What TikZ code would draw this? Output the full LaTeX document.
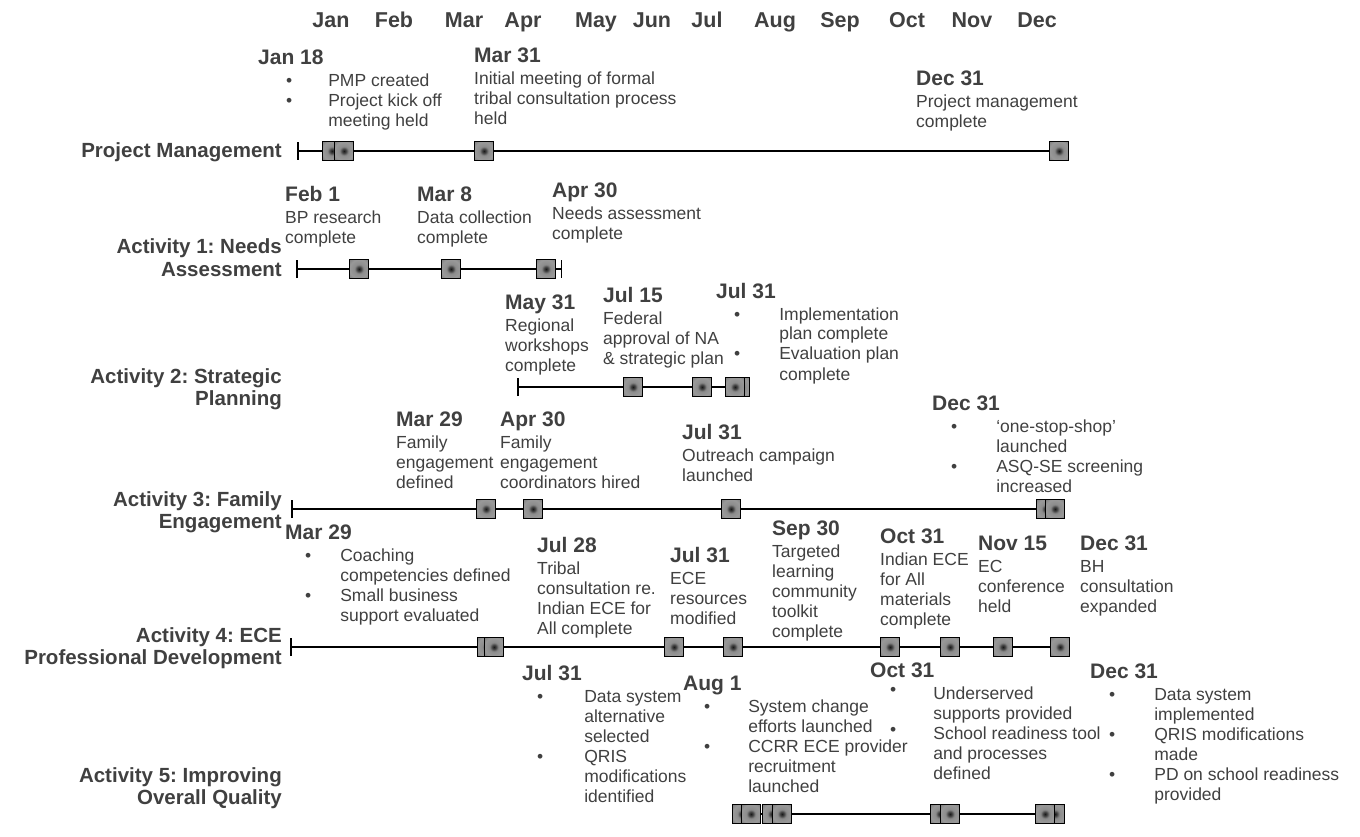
\documentclass[tikz,border=0pt]{standalone}
\usepackage{fontspec}
\setmainfont{Liberation Sans}
\usetikzlibrary{arrows.meta, backgrounds}
\frenchspacing

% milestone square: dark dot, light ring, darker rim
\pgfdeclareradialshading{msshade}{\pgfpoint{0bp}{0bp}}{%
  color(0bp)=(black!90); color(5bp)=(black!75); color(12bp)=(black!45);
  color(25bp)=(black!40); color(40bp)=(black!55); color(50bp)=(black!62)}

\newcommand{\txtfont}{\fontsize{17.5}{20}\selectfont}
\newcommand{\datefont}{\fontsize{21}{24}\selectfont\bfseries}
\newcommand{\lblfont}{\fontsize{20.5}{22.5}\selectfont\bfseries}
\newcommand{\monfont}{\fontsize{21.5}{24}\selectfont\bfseries}
% date + plain lines
\newcommand{\ev}[2]{\begin{tabular}[t]{@{}l@{}}{\datefont #1}\\[2pt] #2\end{tabular}}
% date + bulleted lines (bullet indent, gap)
\newcommand{\evb}[4]{\begin{tabular}[t]{@{\hspace{#1pt}}l@{\hspace{#2pt}}l@{}}%
  \multicolumn{2}{@{}l@{}}{\datefont #3}\\[2pt] #4\end{tabular}}
\newcommand{\two}[2]{\begin{tabular}[t]{@{}r@{}}#1\\ #2\end{tabular}}
\newcommand{\hib}{\raisebox{4pt}{\textbullet}}

\begin{document}
\begin{tikzpicture}[x=1pt, y=-1pt]
    \tikzset{
      ms/.style={draw=black, line width=1.2pt, shading=msshade,
                 minimum size=19pt, inner sep=0pt, shape=rectangle},
      txt/.style={font=\txtfont, text=black!75, inner sep=0pt, anchor=base west},
      lbl/.style={font=\lblfont, text=black!75, inner sep=0pt, anchor=base east},
      mon/.style={font=\monfont, text=black!75, inner sep=0pt, anchor=base},
      tl/.style={draw=black, line width=1.5pt},
      tk/.style={arrows={Bar[width=18pt]-}},
      tkk/.style={arrows={Bar[width=18pt]-Bar[width=18pt]}}
    }
    \useasboundingbox (0,0) rectangle (1360,837);

    % months
    \foreach \m/\x in {Jan/331, Feb/394, Mar/464, Apr/523, May/596, Jun/652,
                       Jul/707, Aug/775, Sep/840, Oct/907, Nov/972, Dec/1037}
        \node[mon] (m-\m) at (\x,28) {\m};

    % row labels
    \node[lbl] (pm-l) at (282,158) {Project Management};
    \node[lbl] (na-l) at (282,254) {\two{Activity 1: Needs}{Assessment}};
    \node[lbl] (sp-l) at (282,383) {\two{Activity 2: Strategic}{Planning}};
    \node[lbl] (fe-l) at (282,506) {\two{Activity 3: Family}{Engagement}};
    \node[lbl] (pd-l) at (282,642) {\two{Activity 4: ECE}{Professional Development}};
    \node[lbl] (oq-l) at (282,782) {\two{Activity 5: Improving}{Overall Quality}};

    % project management
    \coordinate (pm0) at (297,151);
    \foreach \i/\x in {1/332, 2/344, 3/484, 4/1059} \node[ms] (pm\i) at (\x,151) {};
    \node[txt] (pm-t1) at (258,65) {\evb{28}{36}{Jan 18}{\textbullet & PMP created\\
        \textbullet & Project kick off\\ & meeting held}};
    \node[txt] (pm-t2) at (474,63) {\ev{Mar 31}{Initial meeting of formal\\
        tribal consultation process\\ held}};
    \node[txt] (pm-t3) at (916,86) {\ev{Dec 31}{Project management\\ complete}};

    % needs assessment
    \coordinate (na0) at (296,269);
    \coordinate (na4) at (562,269);
    \foreach \i/\x in {1/359, 2/451, 3/546} \node[ms] (na\i) at (\x,269) {};
    \node[txt] (na-t1) at (285,202) {\ev{Feb 1}{BP research\\ complete}};
    \node[txt] (na-t2) at (417,202) {\ev{Mar 8}{Data collection\\ complete}};
    \node[txt] (na-t3) at (552,198) {\ev{Apr 30}{Needs assessment\\ complete}};

    % strategic planning
    \coordinate (sp0) at (517,387);
    \foreach \i/\x in {1/633, 2/702, 4/740, 3/735} \node[ms] (sp\i) at (\x,387) {};
    \node[txt] (sp-t1) at (505,309) {\ev{May 31}{Regional\\ workshops\\ complete}};
    \node[txt] (sp-t2) at (603,302) {\ev{Jul 15}{Federal\\ approval of NA\\ \& strategic plan}};
    \node[txt] (sp-t3) at (716,298) {\evb{18}{39}{Jul 31}{\textbullet & Implementation\\
        & plan complete\\ \textbullet & Evaluation plan\\ & complete}};

    % family engagement
    \coordinate (fe0) at (291,509);
    \foreach \i/\x in {1/486, 2/533, 3/731, 4/1046, 5/1055} \node[ms] (fe\i) at (\x,509) {};
    \node[txt] (fe-t1) at (396,426) {\ev{Mar 29}{Family\\ engagement\\ defined}};
    \node[txt] (fe-t2) at (500,426) {\ev{Apr 30}{Family\\ engagement\\ coordinators hired}};
    \node[txt] (fe-t3) at (682,439) {\ev{Jul 31}{Outreach campaign\\ launched}};
    \node[txt] (fe-t4) at (932,410) {\evb{19}{39}{Dec 31}{\textbullet & ‘one-stop-shop’\\
        & launched\\ \textbullet & ASQ-SE screening\\ & increased}};

    % ECE professional development
    \coordinate (pd0) at (290,647);
    \foreach \i/\x in {1/487, 2/494, 3/674, 4/733, 5/890, 6/950, 7/1003, 8/1060}
        \node[ms] (pd\i) at (\x,647) {};
    \node[txt] (pd-t1) at (285,539) {\evb{20}{29}{Mar 29}{\textbullet & Coaching\\
        & competencies defined\\ \textbullet & Small business\\ & support evaluated}};
    \node[txt] (pd-t2) at (537,552) {\ev{Jul 28}{Tribal\\ consultation re.\\
        Indian ECE for\\ All complete}};
    \node[txt] (pd-t3) at (670,562) {\ev{Jul 31}{ECE\\ resources\\ modified}};
    \node[txt] (pd-t4) at (772,535) {\ev{Sep 30}{Targeted\\ learning\\ community\\
        toolkit\\ complete}};
    \node[txt] (pd-t5) at (880,543) {\ev{Oct 31}{Indian ECE\\ for All\\ materials\\ complete}};
    \node[txt] (pd-t6) at (978,550) {\ev{Nov 15}{EC\\ conference\\ held}};
    \node[txt] (pd-t7) at (1080,550) {\ev{Dec 31}{BH\\ consultation\\ expanded}};

    % improving overall quality
    \foreach \i/\x in {1/742, 2/751, 3/772, 4/782, 5/940, 6/950, 8/1055, 7/1045}
        \node[ms] (oq\i) at (\x,814) {};
    \node[txt] (oq-t1) at (522,680) {\evb{15}{41}{Jul 31}{\textbullet & Data system\\
        & alternative\\ & selected\\ \textbullet & QRIS\\ & modifications\\ & identified}};
    \node[txt] (oq-t2) at (683,690) {\evb{21}{38}{Aug 1}{\textbullet & System change\\
        & efforts launched\\ \textbullet & CCRR ECE provider\\ & recruitment\\ & launched}};
    \node[txt] (oq-t3) at (870,677) {\evb{20}{37}{Oct 31}{\hib & Underserved\\
        & supports provided\\ \hib & School readiness tool\\ & and processes\\ & defined}};
    \node[txt] (oq-t4) at (1090,678) {\evb{19}{39}{Dec 31}{\textbullet & Data system\\
        & implemented\\ \textbullet & QRIS modifications\\ & made\\
        \textbullet & PD on school readiness\\ & provided}};

    % timelines
    \begin{scope}[on background layer]
        \draw[tl, tk] (pm0) -- (pm4);
        \draw[tl, tkk] (na0) -- (na4);
        \draw[tl, tk] (sp0) -- (sp4);
        \draw[tl, tk] (fe0) -- (fe5);
        \draw[tl, tk] (pd0) -- (pd8);
        \draw[tl] (oq1) -- (oq8);
    \end{scope}
\end{tikzpicture}
\end{document}
